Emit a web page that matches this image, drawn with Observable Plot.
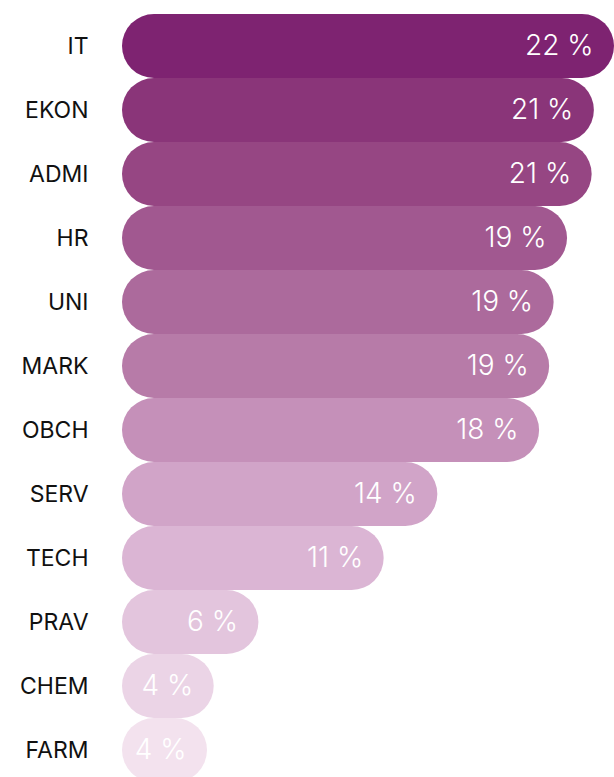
<!DOCTYPE html>
<html>
<head>
<meta charset="utf-8">
<script src="https://cdn.jsdelivr.net/npm/d3@7"></script>
<script src="https://cdn.jsdelivr.net/npm/@observablehq/plot@0.6"></script>
<style>
  html, body { margin: 0; padding: 0; background: #fff; overflow: hidden; }
  #chart { width: 614px; height: 777px; overflow: hidden; }
</style>
</head>
<body>
<div id="chart"></div>
<script>
// Categories (top to bottom)
const categories = ["IT", "EKON", "ADMI", "HR", "UNI", "MARK", "OBCH", "SERV", "TECH", "PRAV", "CHEM", "FARM"];
// Bar lengths (%)
const shares = [22.0, 21.1, 21.0, 19.9, 19.3, 19.1, 18.65, 14.1, 11.7, 6.1, 4.1, 3.8];
// Value labels as printed in the bars (%)
const labelValues = [22, 21, 21, 19, 19, 19, 18, 14, 11, 6, 4, 4];
// Bar colours
const colors = ["#7e2371", "#8a3579", "#964683", "#a15890", "#ac6a9c", "#b77ba8",
                "#c590b9", "#d1a4c8", "#dbb5d4", "#e3c5dd", "#ebd4e6", "#f3e2ee"];

const data = categories.map((c, i) => ({cat: c, value: shares[i], label: `${labelValues[i]} %`}));

const chart = Plot.plot({
  width: 614,
  height: 777,
  marginLeft: 122,
  marginRight: 0,
  marginTop: 11,
  marginBottom: 0,
  style: {fontFamily: "Inter, 'Noto Sans', sans-serif", background: "white"},
  x: {domain: [0, 22], range: [122, 614], axis: null},
  y: {domain: categories, range: [11, 785], padding: 0, label: null},
  color: {domain: categories, range: colors},
  marks: [
    Plot.barX(data, {x: "value", y: "cat", fill: "cat", rx: 32}),
    Plot.text(data, {
      x: "value", y: "cat", text: "label",
      textAnchor: "end", dx: -21, fill: "white",
      fontSize: 28, fontWeight: 300, letterSpacing: 1
    }),
    Plot.axisY({tickSize: 0, tickPadding: 34, fontSize: 23, fontWeight: 400, label: null, fill: "#111"})
  ]
});
document.getElementById("chart").append(chart);
</script>
</body>
</html>
